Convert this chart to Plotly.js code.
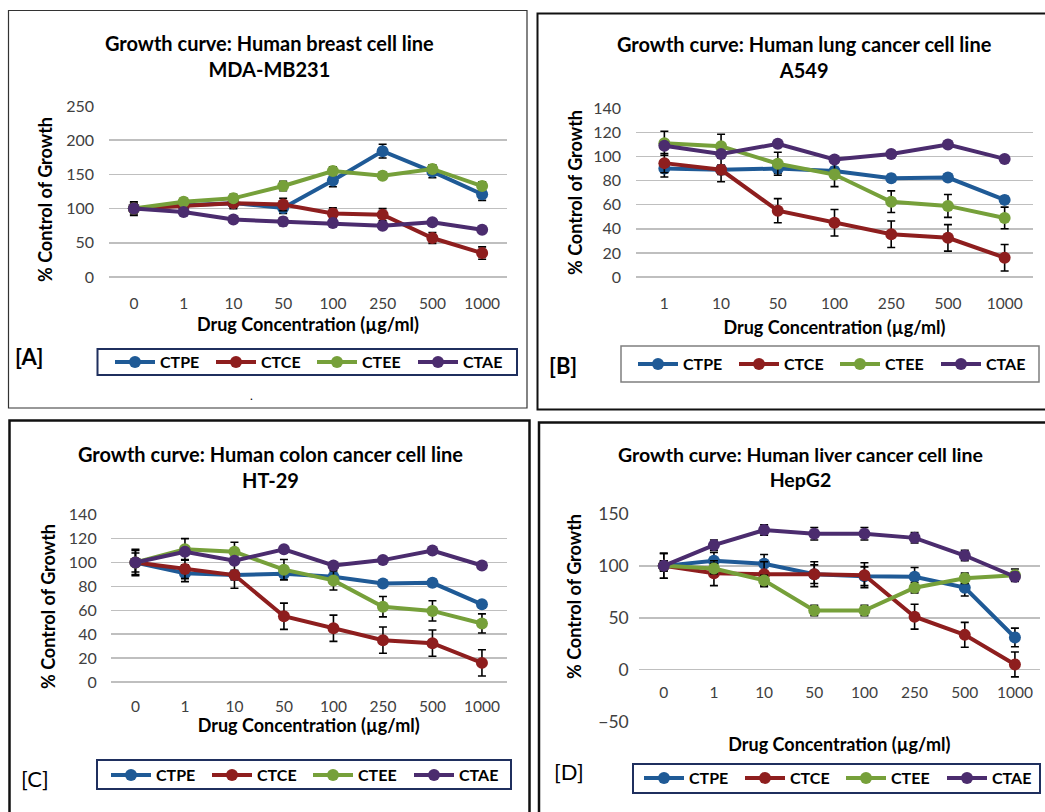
<!DOCTYPE html>
<html>
<head>
<meta charset="utf-8">
<script src="https://cdn.plot.ly/plotly-3.0.1.min.js"></script>
<style>html,body{margin:0;padding:0;background:#fff;}#chart{width:1045px;height:812px;}</style>
</head>
<body>
<div id="chart"></div>
<script>
// ---------- DATA ----------
const seriesNames = ['CTPE', 'CTCE', 'CTEE', 'CTAE'];
const concA = ['0', '1', '10', '50', '100', '250', '500', '1000'];
const concB = ['1', '10', '50', '100', '250', '500', '1000'];
const concC = ['0', '1', '10', '50', '100', '250', '500', '1000'];
const concD = ['0', '1', '10', '50', '100', '250', '500', '1000'];

// Panel A: MDA-MB231
const A_CTPE = [100, 105, 108, 101, 141, 184, 154, 121];
const A_CTCE = [100, 104, 108, 106, 93, 91, 57, 35];
const A_CTEE = [100, 110, 115, 133, 155, 148, 158, 133];
const A_CTAE = [100, 95, 84, 81, 79, 75, 80, 69];
const A_errCTPE = [10, 5, 8, 8, 9, 10, 9, 9];
const A_errCTCE = [8, 6, 6, 9, 8, 9, 8, 9];
const A_errCTEE = [5, 5, 6, 7, 6, 5, 6, 6];
const A_errCTAE = [4, 3, 4, 6, 4, 4, 3, 3];

// Panel B: A549
const B_CTPE = [90, 89, 90, 88, 82, 82.5, 64];
const B_CTCE = [94.5, 89, 55, 45, 35.5, 32.5, 16];
const B_CTEE = [111, 108.5, 94, 85, 62.5, 59, 49];
const B_CTAE = [109, 102, 110.5, 97.5, 102, 110, 98];
const B_errCTPE = [7, 4, 4, 3, 3, 3, 3];
const B_errCTCE = [8, 10, 10, 11, 11, 11, 11];
const B_errCTEE = [10, 10, 9.5, 10, 9, 9.5, 9];
const B_errCTAE = [2, 2, 2, 2, 2, 2, 2];

// Panel C: HT-29
const C_CTPE = [100, 91, 89.5, 90.5, 88, 82.5, 83, 65];
const C_CTCE = [100, 94.5, 89.5, 55, 45, 35, 32.5, 16];
const C_CTEE = [100, 111, 109, 94, 85, 63, 59.5, 49];
const C_CTAE = [100, 109, 101.5, 111, 97.5, 102, 110, 97.5];
const C_errCTPE = [11, 7, 4, 3, 3, 3, 3, 3];
const C_errCTCE = [10, 8, 11, 11, 11, 11, 11, 11];
const C_errCTEE = [8, 9, 8, 8.5, 8, 8.5, 8.5, 8];
const C_errCTAE = [2, 2, 2, 2, 2, 2, 2, 2];

// Panel D: HepG2
const D_CTPE = [100, 105, 102, 92, 90, 89.5, 79, 31];
const D_CTCE = [100, 93, 92, 92, 91, 51, 33.5, 5];
const D_CTEE = [100, 97.5, 86, 57, 57, 79, 88, 91];
const D_CTAE = [100, 120, 134.5, 131, 131, 127, 110, 89.5];
const D_errCTPE = [12, 8, 9, 9, 9, 9, 8, 9];
const D_errCTCE = [12, 12, 12, 12, 12, 12, 12, 12];
const D_errCTEE = [5, 5, 5, 5, 5, 5, 5, 6];
const D_errCTAE = [5, 5, 5, 6, 6, 5, 5, 4];

const titles = [
  'Growth curve: Human breast cell line<br>MDA-MB231',
  'Growth curve: Human lung cancer cell line<br>A549',
  'Growth curve: Human colon cancer cell line<br>HT-29',
  'Growth curve: Human liver cancer cell line<br>HepG2'
];
const panelLabels = ['[A]', '[B]', '[C]', '[D]'];
const xTitle = 'Drug Concentration (µg/ml)';
const yTitle = '% Control of Growth';

// ---------- STYLE ----------
const colors = ['#1F5A96', '#8E1E1E', '#76A03A', '#4B2C6E'];
const W = 1045, H = 812;
const fx = p => p / W;
const fy = p => 1 - p / H;
const FONT = 'Lato, "Open Sans", sans-serif';

const panels = [
  {x: concA, ys: [A_CTPE, A_CTCE, A_CTEE, A_CTAE], es: [A_errCTPE, A_errCTCE, A_errCTEE, A_errCTAE]},
  {x: concB, ys: [B_CTPE, B_CTCE, B_CTEE, B_CTAE], es: [B_errCTPE, B_errCTCE, B_errCTEE, B_errCTAE]},
  {x: concC, ys: [C_CTPE, C_CTCE, C_CTEE, C_CTAE], es: [C_errCTPE, C_errCTCE, C_errCTEE, C_errCTAE]},
  {x: concD, ys: [D_CTPE, D_CTCE, D_CTEE, D_CTAE], es: [D_errCTPE, D_errCTCE, D_errCTEE, D_errCTAE]}
];

const traces = [];
panels.forEach((p, pi) => {
  const sfx = pi === 0 ? '' : String(pi + 1);
  p.ys.forEach((y, si) => {
    traces.push({
      type: 'scatter', mode: 'lines+markers',
      name: seriesNames[si],
      x: p.x, y: y,
      xaxis: 'x' + sfx, yaxis: 'y' + sfx,
      legend: 'legend' + sfx,
      line: {color: colors[si], width: 4},
      marker: {color: colors[si], size: 12, line: {width: 0}},
      error_y: {type: 'data', array: p.es[si], visible: true, color: '#000', thickness: 1.6, width: 4}
    });
  });
});

// axis geometry (pixels) and text offsets
const geo = [
  {x0: 109, x1: 507, yb: 277, yt: 106, range: [0, 250], dtick: 50, n: 8, xls: 15, xts: 7.5, yls: 14, yfs: 16, ytx: 45, yty: 200},
  {x0: 636, x1: 1033, yb: 277, yt: 108.3, range: [0, 140], dtick: 20, n: 7, xls: 15, xts: 10.5, yls: 14, yfs: 16, ytx: 575, yty: 193},
  {x0: 110.7, x1: 506.7, yb: 682, yt: 514.7, range: [0, 140], dtick: 20, n: 8, xls: 13, xts: 5.5, yls: 13, yfs: 16, ytx: 48, yty: 607},
  {x0: 638.7, x1: 1040, yb: 721.5, yt: 514, range: [-50, 150], dtick: 50, n: 8, xls: 12, xts: 38, yls: 9, yfs: 17.5, ytx: 574, yty: 597}
];

const layout = {
  width: W, height: 812,
  margin: {l: 0, r: 0, t: 0, b: 0, pad: 0, autoexpand: false},
  paper_bgcolor: '#fff', plot_bgcolor: 'rgba(0,0,0,0)',
  font: {family: FONT, color: '#404040'},
  showlegend: true,
  shapes: [], annotations: []
};

geo.forEach((g, i) => {
  const sfx = i === 0 ? '' : String(i + 1);
  const yd = [fy(g.yb), fy(g.yt)];
  const xa = {
    domain: [fx(g.x0), fx(g.x1)], anchor: 'y' + sfx, type: 'category',
    range: [-0.5, g.n - 0.5], showgrid: false, zeroline: false, showline: false,
    ticks: '', ticklabelstandoff: g.xls, automargin: false,
    tickfont: {family: FONT, size: 15.5, color: '#404040'},
    title: {text: '<b>' + xTitle + '</b>', font: {family: FONT, size: 18, color: '#000'}, standoff: g.xts}
  };
  if (i === 3) {
    xa.anchor = 'free';
    xa.position = yd[0] + (0 - g.range[0]) / (g.range[1] - g.range[0]) * (yd[1] - yd[0]);
  }
  layout['xaxis' + sfx] = xa;
  layout['yaxis' + sfx] = {
    domain: yd, anchor: 'x' + sfx, range: g.range, dtick: g.dtick, tick0: 0,
    showgrid: true, gridcolor: '#BFBFBF', gridwidth: 1.5,
    zeroline: true, zerolinecolor: '#BFBFBF', zerolinewidth: 1.5,
    showline: false, ticks: '', ticklabelstandoff: g.yls, automargin: false,
    tickfont: {family: FONT, size: g.yfs, color: '#404040'}
  };
  // y-axis title (positioned like the reference, which is not centred on the plot area)
  layout.annotations.push({
    text: '<b>' + yTitle + '</b>', xref: 'paper', yref: 'paper', x: fx(g.ytx), y: fy(g.yty),
    xanchor: 'center', yanchor: 'middle', textangle: -90, showarrow: false,
    font: {family: FONT, size: 18, color: '#000'}
  });
});

// legends
const legPos = [
  {x: 312, y: 362},
  {x: 835, y: 364},
  {x: 308, y: 775},
  {x: 841, y: 778}
];
legPos.forEach((l, i) => {
  const key = i === 0 ? 'legend' : 'legend' + (i + 1);
  layout[key] = {
    orientation: 'h', x: fx(l.x), y: fy(l.y), xanchor: 'center', yanchor: 'middle',
    bgcolor: 'rgba(0,0,0,0)', borderwidth: 0,
    font: {family: FONT, size: 16, color: '#000', weight: 'bold'},
    entrywidth: 46, entrywidthmode: 'pixels', itemwidth: 40
  };
});

// panel borders
const borders = [
  {x0: 8.5, y0: 10.5, x1: 527, y1: 408, w: 1.2, c: '#333'},
  {x0: 537.5, y0: 13.5, x1: 1050, y1: 409.5, w: 2, c: '#111'},
  {x0: 9.5, y0: 420.5, x1: 529.5, y1: 820, w: 2.5, c: '#111'},
  {x0: 539, y0: 422.5, x1: 1050, y1: 820, w: 2.5, c: '#111'}
];
borders.forEach(b => layout.shapes.push({
  type: 'rect', xref: 'paper', yref: 'paper', x0: fx(b.x0), x1: fx(b.x1), y0: fy(b.y0), y1: fy(b.y1),
  line: {color: b.c, width: b.w}, fillcolor: 'rgba(0,0,0,0)', layer: 'above'
}));
// legend boxes
const legBoxes = [
  {x0: 97.5, y0: 349, x1: 517, y1: 375, c: '#1F2F5E', w: 2},
  {x0: 621, y0: 346, x1: 1039, y1: 382, c: '#7F7F7F', w: 1.5},
  {x0: 97, y0: 760, x1: 511, y1: 789, c: '#1F2F5E', w: 2},
  {x0: 633, y0: 764, x1: 1040, y1: 793, c: '#1F2F5E', w: 2}
];
legBoxes.forEach(b => layout.shapes.push({
  type: 'rect', xref: 'paper', yref: 'paper', x0: fx(b.x0), x1: fx(b.x1), y0: fy(b.y0), y1: fy(b.y1),
  line: {color: b.c, width: b.w}, fillcolor: 'rgba(0,0,0,0)'
}));

// titles
const titlePos = [{x: 269, y: 56, s: 20}, {x: 804, y: 57, s: 20}, {x: 270, y: 467, s: 20}, {x: 800, y: 467, s: 19.5}];
titlePos.forEach((t, i) => layout.annotations.push({
  text: '<b>' + titles[i] + '</b>', xref: 'paper', yref: 'paper', x: fx(t.x), y: fy(t.y),
  xanchor: 'center', yanchor: 'middle', showarrow: false, align: 'center',
  font: {family: FONT, size: t.s, color: '#000'}
}));
// panel labels
const labPos = [{x: 29, y: 356, b: true, s: 22}, {x: 563, y: 365, b: true, s: 22}, {x: 35, y: 778, b: false, s: 22}, {x: 569, y: 771, b: false, s: 22}];
labPos.forEach((l, i) => layout.annotations.push({
  text: l.b ? '<b>' + panelLabels[i] + '</b>' : panelLabels[i], xref: 'paper', yref: 'paper',
  x: fx(l.x), y: fy(l.y), xanchor: 'center', yanchor: 'middle', showarrow: false,
  font: {family: FONT, size: l.s, color: '#000'}
}));
layout.annotations.push({text: '.', xref: 'paper', yref: 'paper', x: fx(248), y: fy(396),
  showarrow: false, font: {family: FONT, size: 12, color: '#000'}});

Plotly.newPlot('chart', traces, layout, {staticPlot: true, displayModeBar: false});
</script>
</body>
</html>
